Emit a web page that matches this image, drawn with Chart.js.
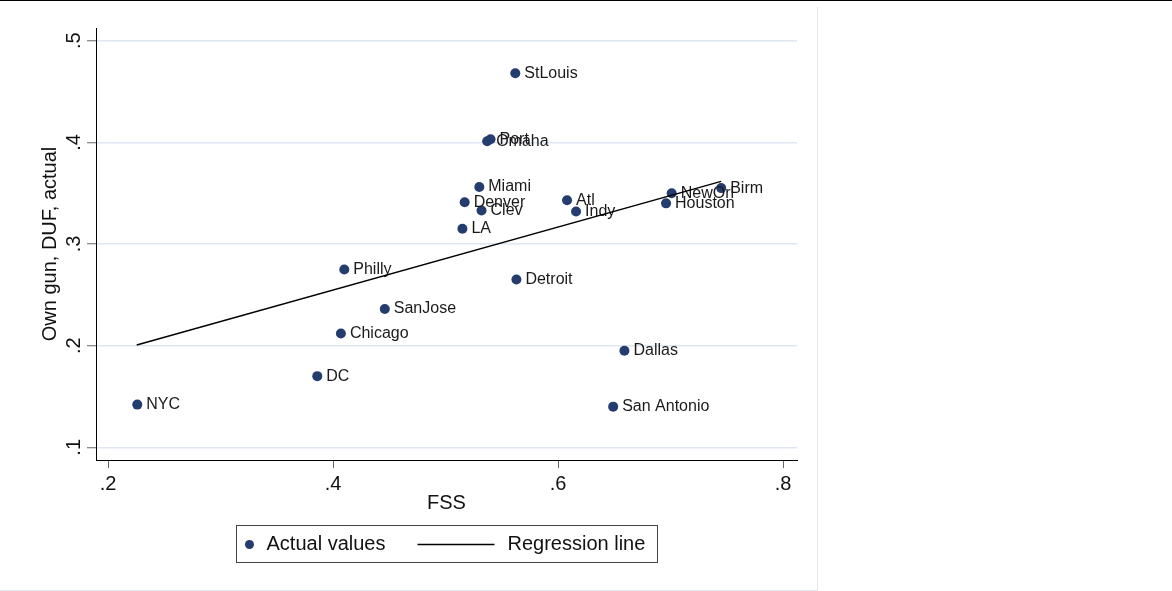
<!DOCTYPE html>
<html>
<head>
<meta charset="utf-8">
<script src="https://cdn.jsdelivr.net/npm/chart.js@4.4.1/dist/chart.umd.min.js"></script>
<style>
  body { margin: 0; background: #fff; }
  #frame { position: absolute; left: 0; top: 0; width: 817px; height: 590px; }
  #topline { position: absolute; left: 0; top: 0; width: 1172px; height: 1px; background: #000; }
  #edgeR { position: absolute; left: 817px; top: 7px; width: 1px; height: 584px; background: #e3e7ef; }
  #edgeB { position: absolute; left: 0; top: 590px; width: 818px; height: 1px; background: #e3e7ef; }
</style>
</head>
<body>
<div id="frame"><canvas id="gunChart" width="817" height="590"></canvas></div>
<div id="topline"></div>
<div id="edgeR"></div>
<div id="edgeB"></div>
<script>
// city data
const cities = ['StLouis', 'Port', 'Omaha', 'Miami', 'Denver', 'Clev', 'LA', 'Atl', 'Indy', 'NewOrl',
                'Houston', 'Birm', 'Detroit', 'Philly', 'SanJose', 'Chicago', 'DC', 'NYC', 'Dallas', 'San Antonio'];
const fss = [0.562, 0.540, 0.537, 0.530, 0.517, 0.532, 0.515, 0.608, 0.616, 0.701,
             0.696, 0.745, 0.563, 0.410, 0.446, 0.407, 0.386, 0.226, 0.659, 0.649];
const ownGun = [0.468, 0.403, 0.401, 0.356, 0.341, 0.333, 0.315, 0.343, 0.332, 0.350,
                0.340, 0.355, 0.265, 0.275, 0.236, 0.212, 0.170, 0.142, 0.195, 0.140];

// regression line end points
const fitX = [0.2255, 0.745];
const fitY = [0.2006, 0.3616];

const xTicks = [0.2, 0.4, 0.6, 0.8];
const yTicks = [0.1, 0.2, 0.3, 0.4, 0.5];
const legendLabels = ['Actual values', 'Regression line'];

const navy = '#253c6f';
const font = '"Liberation Sans", Arial, sans-serif';

const tickLabel = v => String(v).replace(/^0\./, '.');

// city names to the right of each dot, drawn before the fit line
const cityLabels = {
    id: 'cityLabels',
    afterDatasetDraw(chart, args) {
        if (args.index !== 0) return;
        const ctx = chart.ctx;
        ctx.save();
        ctx.font = '16px ' + font;
        ctx.fillStyle = '#1a1a1a';
        ctx.textBaseline = 'middle';
        args.meta.data.forEach((pt, i) => ctx.fillText(cities[i], pt.x + 9, pt.y));
        ctx.restore();
    }
};

// boxed legend under the x title
const boxLegend = {
    id: 'boxLegend',
    afterDraw(chart) {
        const ctx = chart.ctx;
        const mid = (chart.chartArea.left + chart.chartArea.right) / 2;
        const left = Math.round(mid - 211) + 0.5, top = 525.5;
        const cy = top + 19;
        ctx.save();
        ctx.strokeStyle = '#444';
        ctx.lineWidth = 1;
        ctx.strokeRect(left, top, 421, 37);
        ctx.fillStyle = navy;
        ctx.beginPath();
        ctx.arc(left + 13, cy, 4.5, 0, Math.PI * 2);
        ctx.fill();
        ctx.font = '20px ' + font;
        ctx.fillStyle = '#111';
        ctx.textBaseline = 'middle';
        ctx.fillText(legendLabels[0], left + 30, cy);
        ctx.strokeStyle = '#000';
        ctx.lineWidth = 1.5;
        ctx.beginPath();
        ctx.moveTo(left + 181, cy);
        ctx.lineTo(left + 258, cy);
        ctx.stroke();
        ctx.fillText(legendLabels[1], left + 271, cy);
        ctx.restore();
    }
};

new Chart(document.getElementById('gunChart'), {
    type: 'scatter',
    data: {
        datasets: [{
            label: legendLabels[0],
            data: fss.map((x, i) => ({ x: x, y: ownGun[i] })),
            backgroundColor: navy,
            borderColor: navy,
            borderWidth: 0,
            pointRadius: 5,
            order: 1
        }, {
            type: 'line',
            label: legendLabels[1],
            data: fitX.map((x, i) => ({ x: x, y: fitY[i] })),
            borderColor: '#000',
            borderWidth: 1.5,
            pointRadius: 0,
            showLine: true,
            fill: false,
            order: 0
        }]
    },
    options: {
        responsive: false,
        animation: false,
        layout: { padding: { top: 28, right: 20, bottom: 70, left: 0 } },
        plugins: {
            legend: { display: false },
            tooltip: { enabled: false }
        },
        scales: {
            x: {
                type: 'linear',
                min: 0.1893,
                max: 0.8124,
                afterBuildTicks: s => { s.ticks = xTicks.map(v => ({ value: v })); },
                afterFit: s => { s.height = 60; },
                ticks: { callback: tickLabel, color: '#111', font: { family: font, size: 20 }, padding: 4, maxRotation: 0 },
                grid: { drawOnChartArea: false, tickLength: 8, tickColor: '#666', tickWidth: 1 },
                border: { color: '#000', width: 1 },
                title: { display: true, text: 'FSS', color: '#111', font: { family: font, size: 20 }, padding: { top: 0, bottom: 5 } }
            },
            y: {
                type: 'linear',
                min: 0.0875,
                max: 0.5125,
                afterBuildTicks: s => { s.ticks = yTicks.map(v => ({ value: v })); },
                afterFit: s => { s.width = 96; },
                ticks: { callback: tickLabel, color: '#111', font: { family: font, size: 20 }, padding: 4,
                         minRotation: 90, maxRotation: 90, crossAlign: 'center' },
                grid: { color: '#dfe6f1', lineWidth: 1.5, tickLength: 9, tickColor: '#666', tickWidth: 1 },
                border: { color: '#000', width: 1 },
                title: { display: true, text: 'Own gun, DUF, actual', color: '#111', font: { family: font, size: 20 }, padding: { top: 38, bottom: 0 } }
            }
        }
    },
    plugins: [cityLabels, boxLegend]
});
</script>
</body>
</html>
